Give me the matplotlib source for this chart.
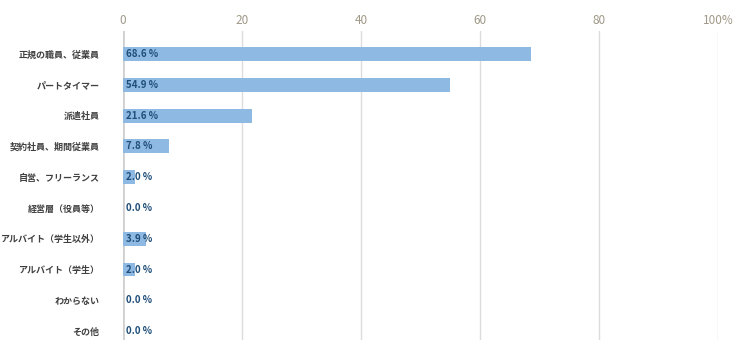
import matplotlib.pyplot as plt
import numpy as np

plt.rcParams['font.family'] = ['Noto Sans CJK JP', 'DejaVu Sans']

categories = ['正規の職員、従業員', 'パートタイマー', '派遣社員', '契約社員、期間従業員',
              '自営、フリーランス', '経営層（役員等）', 'アルバイト（学生以外）',
              'アルバイト（学生）', 'わからない', 'その他']
values = [68.6, 54.9, 21.6, 7.8, 2.0, 0.0, 3.9, 2.0, 0.0, 0.0]
ticks = [0, 20, 40, 60, 80, 100]
tick_labels = ['0', '20', '40', '60', '80', '100%']

fig = plt.figure(figsize=(7.34, 3.51), dpi=100)
ax = fig.add_axes([123 / 734, 11 / 351, (718 - 123) / 734, (340 - 31) / 351])

y = np.arange(len(categories))
ax.barh(y, values, height=0.45, color='#8DB9E3', zorder=2)
ax.set_xlim(0, 100)
ax.set_ylim(9.29, -0.75)

for i, v in enumerate(values):
    ax.text(0.5, i, f'{v:.1f} %', va='center', ha='left', fontsize=7,
            fontweight='bold', color='#1F4E79', zorder=3)

ax.set_xticks(ticks)
ax.set_xticklabels(tick_labels, fontsize=8.5, color='#A09888')
ax.xaxis.tick_top()
ax.tick_params(axis='x', length=0, pad=3)
ax.set_yticks(y)
ax.set_yticklabels(categories, fontsize=6.5, fontweight='bold', color='#404040')
ax.tick_params(axis='y', length=0, pad=17)

for t in ticks[1:]:
    ax.axvline(t, color='#DCDCDC', linewidth=1, zorder=1)
ax.axvline(0, color='#D0D0D0', linewidth=2, zorder=1)

for s in ax.spines.values():
    s.set_visible(False)

fig.savefig('out.png', dpi=100)
